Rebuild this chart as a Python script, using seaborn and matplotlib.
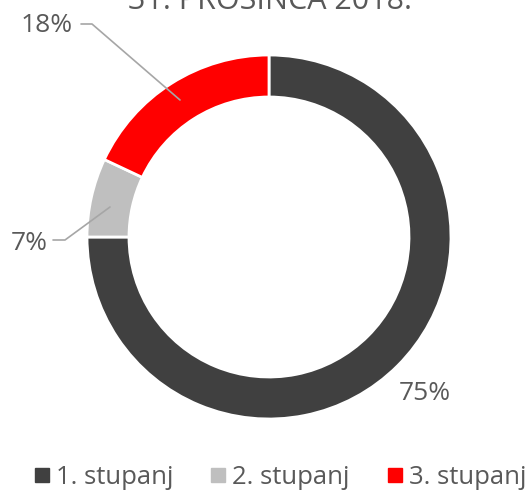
import seaborn as sns
import matplotlib.pyplot as plt
from matplotlib.lines import Line2D

sns.set_theme(style="white")
plt.rcParams['font.family'] = ['Open Sans', 'DejaVu Sans']

title = "31. PROSINCA 2018."
categories = ["1. stupanj", "2. stupanj", "3. stupanj"]
shares = [75, 7, 18]
colors = ["#404040", "#bfbfbf", "#ff0000"]
text_col = "#595959"

W, H = 529, 496
fig = plt.figure(figsize=(W / 100, H / 100), dpi=100)
ax = fig.add_axes([0, 0, 1, 1])

cx, cy, r = 269, H - 237, 182
wedges, _ = ax.pie(shares, colors=colors, startangle=90, counterclock=False,
                   center=(cx, cy), radius=r,
                   wedgeprops=dict(width=42, edgecolor="white", linewidth=2))
ax.set_xlim(0, W)
ax.set_ylim(0, H)
ax.set_aspect("equal")
ax.axis("off")

# data labels (pixel positions, y from top)
lc = "#a6a6a6"
ax.plot([81, 92, 180], [H - 24, H - 24, H - 100], color=lc, lw=1.2)
ax.plot([53, 65, 110], [H - 240, H - 240, H - 207], color=lc, lw=1.2)
ax.text(73, H - 25, f"{shares[2]}%", ha="right", va="center", fontsize=19, color=text_col)
ax.text(48, H - 243, f"{shares[1]}%", ha="right", va="center", fontsize=19, color=text_col)
ax.text(425, H - 394, f"{shares[0]}%", ha="center", va="center", fontsize=19, color=text_col)

fig.text(270 / W, 1 - 9 / H, title, ha="center", va="baseline", fontsize=22, color=text_col)

handles = [Line2D([], [], marker="s", ls="", color=c, markersize=9.5) for c in colors]
leg = fig.legend(handles, categories, loc="center", bbox_to_anchor=(279 / W, 1 - 477 / H),
                 ncol=3, frameon=False, fontsize=18.5, handletextpad=0.15,
                 columnspacing=1.35, handlelength=0.8, borderpad=0.2)
for t in leg.get_texts():
    t.set_color(text_col)

fig.savefig("out.png", dpi=100)
